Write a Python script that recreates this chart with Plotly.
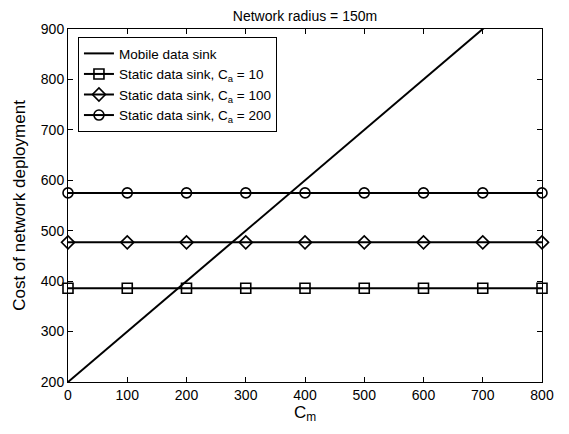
import plotly.graph_objects as go

cm = [0, 100, 200, 300, 400, 500, 600, 700, 800]
mobile_x = [0, 800]
mobile_y = [200, 1000]
static_10 = [386] * len(cm)
static_100 = [477] * len(cm)
static_200 = [575] * len(cm)

x_ticks = [0, 100, 200, 300, 400, 500, 600, 700, 800]
y_ticks = [200, 300, 400, 500, 600, 700, 800, 900]

FONT = "Liberation Sans, Arial, Helvetica, sans-serif"

fig = go.Figure()
fig.add_trace(go.Scatter(x=mobile_x, y=mobile_y, mode="lines",
                         line=dict(color="black", width=2),
                         name="Mobile data sink"))
for vals, sym, nm in [(static_10, "square-open", "Static data sink, C<sub>a</sub> = 10"),
                      (static_100, "diamond-open", "Static data sink, C<sub>a</sub> = 100"),
                      (static_200, "circle-open", "Static data sink, C<sub>a</sub> = 200")]:
    fig.add_trace(go.Scatter(x=cm, y=vals, mode="lines+markers",
                             line=dict(color="black", width=2),
                             marker=dict(symbol=sym, size=10, color="black",
                                         line=dict(color="black", width=1.6)),
                             cliponaxis=False, name=nm))

fig.update_layout(
    width=561, height=426,
    margin=dict(l=60, r=27, t=21, b=52),
    paper_bgcolor="white", plot_bgcolor="white",
    font=dict(family=FONT, size=14, color="black"),
    title=dict(text="Network radius = 150m", x=0.5, xanchor="center",
               xref="paper", y=1, yref="container", yanchor="top",
               pad=dict(t=3, b=0), font=dict(size=14)),
    showlegend=True,
    legend=dict(x=0.021, y=0.977, xanchor="left", yanchor="top",
                bgcolor="white", bordercolor="black", borderwidth=1,
                font=dict(size=13.5), tracegroupgap=0, itemwidth=30),
    xaxis=dict(range=[0, 800], tickvals=x_ticks, showgrid=False, zeroline=False,
               showline=True, linecolor="black", linewidth=1, mirror="ticks",
               ticks="inside", ticklen=5, tickcolor="black",
               title=dict(text="C<sub>m</sub>", standoff=0)),
    yaxis=dict(range=[200, 900], tickvals=y_ticks, showgrid=False, zeroline=False,
               showline=True, linecolor="black", linewidth=1, mirror="ticks",
               ticks="inside", ticklen=5, tickcolor="black",
               title=dict(text="Cost of network deployment", standoff=10)),
)

fig.write_html("out.html")
